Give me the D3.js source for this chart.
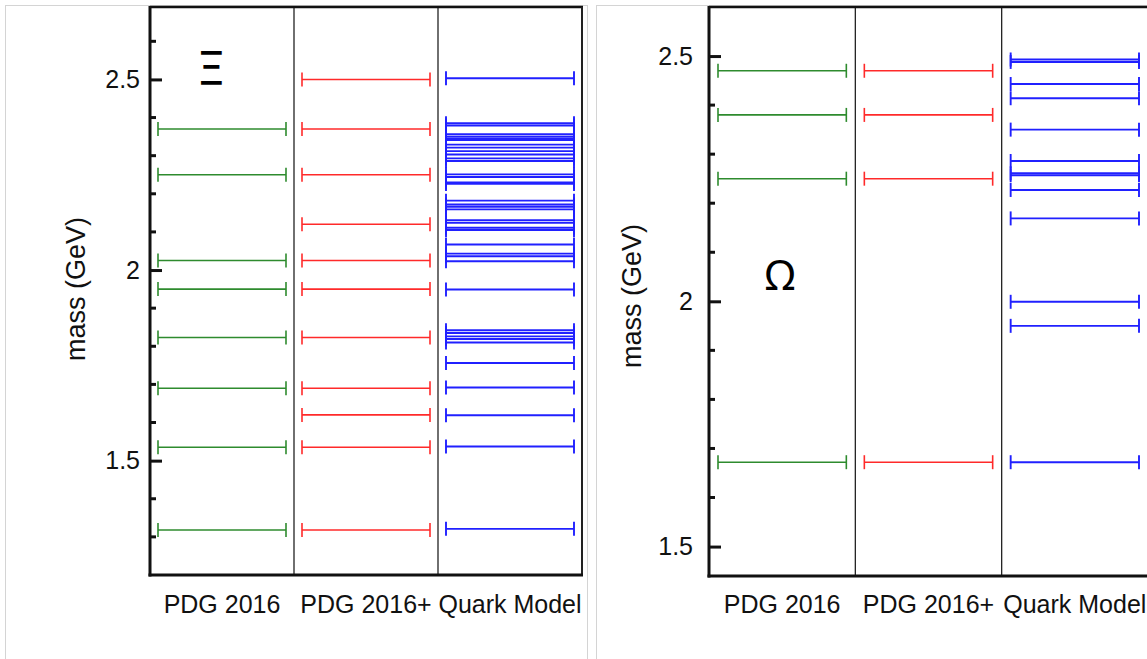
<!DOCTYPE html>
<html>
<head>
<meta charset="utf-8">
<script src="https://cdn.jsdelivr.net/npm/d3@7"></script>
<style>
  body { margin: 0; background: #fff; }
  svg text { font-family: "Liberation Sans", Arial, sans-serif; fill: #111; }
</style>
</head>
<body>
<div id="chart"></div>
<script>
var width = 1147,
    height = 659;

var colors = { pdg: "#2e8b2e", plus: "#ff2a2a", quark: "#2020ff" };

var categories = ["PDG 2016", "PDG 2016+", "Quark Model"];

// Xi levels (GeV)
var xiPdg = [1.318, 1.535, 1.690, 1.823, 1.950, 2.025, 2.250, 2.370];
var xiPdgPlus = [1.318, 1.535, 1.620, 1.690, 1.823, 1.950, 2.025, 2.120, 2.250, 2.370, 2.500];
var xiQuark = [1.321, 1.537, 1.619, 1.692, 1.756, 1.810, 1.819, 1.826, 1.835, 1.842, 1.949,
  2.023, 2.036, 2.043, 2.067, 2.105, 2.111, 2.124, 2.131, 2.159, 2.166, 2.172, 2.182,
  2.226, 2.230, 2.244, 2.251, 2.286, 2.293, 2.303, 2.312, 2.321, 2.329, 2.341, 2.345,
  2.350, 2.356, 2.379, 2.385, 2.503];

// Omega levels (GeV)
var omegaPdg = [1.672, 2.250, 2.380, 2.470];
var omegaPdgPlus = [1.672, 2.250, 2.380, 2.470];
var omegaQuark = [1.672, 1.950, 1.999, 2.169, 2.227, 2.257, 2.261, 2.286, 2.350, 2.414,
  2.443, 2.488, 2.493];

var majorTicks = [1.5, 2, 2.5];
var majorLabels = ["1.5", "2", "2.5"];
var xiMinor = [1.3, 1.4, 1.6, 1.7, 1.8, 1.9, 2.1, 2.2, 2.3, 2.4, 2.6];
var omegaMinor = [1.6, 1.7, 1.8, 1.9, 2.1, 2.2, 2.3, 2.4];

var svg = d3.select("#chart").append("svg")
    .attr("width", width)
    .attr("height", height);

svg.append("rect")
    .attr("width", width)
    .attr("height", height)
    .attr("fill", "#fff");

// screenshot borders
svg.append("rect")
    .attr("x", 5.5).attr("y", 5.5)
    .attr("width", 582).attr("height", 700)
    .attr("fill", "none")
    .attr("stroke", "#d4d4d4");
svg.append("rect")
    .attr("x", 596.5).attr("y", 5.5)
    .attr("width", 700).attr("height", 700)
    .attr("fill", "none")
    .attr("stroke", "#d4d4d4");

drawPanel({
  x0: 150, x1: 582, top: 7, bottom: 575,
  domain: [1.2, 2.69], inset: 8,
  series: [xiPdg, xiPdgPlus, xiQuark],
  minor: xiMinor, labelGap: 10,
  titleX: 75, titleY: 289,
  symbol: "\u039E", symX: 211, symY: 85, symSize: 46, symFont: "DejaVu Sans"
});

drawPanel({
  x0: 709, x1: 1148, top: 7, bottom: 576,
  domain: [1.44, 2.6], inset: 9,
  series: [omegaPdg, omegaPdgPlus, omegaQuark],
  minor: omegaMinor, labelGap: 16,
  titleX: 631, titleY: 296,
  symbol: "\u03A9", symX: 780, symY: 290, symSize: 42, symFont: "Noto Sans"
});

function drawPanel(p) {
  var x = d3.scaleBand()
      .domain(categories)
      .range([p.x0, p.x1]);

  var y = d3.scaleLinear()
      .domain(p.domain)
      .range([p.bottom, p.top]);

  var g = svg.append("g");
  var seriesColors = [colors.pdg, colors.plus, colors.quark],
      seriesWidths = [1.6, 1.6, 1.9];

  p.series.forEach(function(values, i) {
    var cat = categories[i],
        xa = x(cat) + p.inset,
        xb = x(cat) + x.bandwidth() - p.inset;
    var s = g.append("g")
        .attr("stroke", seriesColors[i])
        .attr("stroke-width", seriesWidths[i])
        .attr("fill", "none");
    var lvl = s.selectAll("g").data(values).enter().append("g");
    lvl.append("line")
        .attr("x1", xa).attr("x2", xb)
        .attr("y1", function(d) { return y(d); })
        .attr("y2", function(d) { return y(d); });
    lvl.append("line")
        .attr("x1", xa).attr("x2", xa)
        .attr("y1", function(d) { return y(d) - 7; })
        .attr("y2", function(d) { return y(d) + 7; });
    lvl.append("line")
        .attr("x1", xb).attr("x2", xb)
        .attr("y1", function(d) { return y(d) - 7; })
        .attr("y2", function(d) { return y(d) + 7; });
  });

  // column dividers
  g.selectAll(".divider")
      .data(categories.slice(1))
      .enter().append("line")
      .attr("x1", function(d) { return x(d); })
      .attr("x2", function(d) { return x(d); })
      .attr("y1", p.top)
      .attr("y2", p.bottom)
      .attr("stroke", "#222")
      .attr("stroke-width", 1.3);

  // frame
  g.append("line")
      .attr("x1", p.x0).attr("x2", p.x1 + 1)
      .attr("y1", p.top).attr("y2", p.top)
      .attr("stroke", "#111").attr("stroke-width", 2.5);
  g.append("line")
      .attr("x1", p.x1).attr("x2", p.x1)
      .attr("y1", p.top).attr("y2", p.bottom)
      .attr("stroke", "#222").attr("stroke-width", 2);

  var axis = d3.axisLeft(y)
      .tickValues(majorTicks)
      .tickFormat(function(d, i) { return majorLabels[i]; })
      .tickSize(-12)
      .tickPadding(p.labelGap);

  var ax = svg.append("g")
      .attr("transform", "translate(" + p.x0 + ",0)")
      .call(axis);
  ax.select(".domain").remove();
  ax.selectAll(".tick line")
      .attr("stroke", "#111")
      .attr("stroke-width", 3);
  ax.selectAll(".tick text")
      .attr("x", -p.labelGap)
      .attr("font-size", 25)
      .attr("font-family", "Liberation Sans, Arial, sans-serif")
      .attr("fill", "#111");

  g.selectAll(".minor")
      .data(p.minor)
      .enter().append("line")
      .attr("x1", p.x0).attr("x2", p.x0 + 6)
      .attr("y1", function(d) { return y(d); })
      .attr("y2", function(d) { return y(d); })
      .attr("stroke", "#111")
      .attr("stroke-width", 3);

  g.append("line")
      .attr("x1", p.x0).attr("x2", p.x0)
      .attr("y1", p.top - 1).attr("y2", p.bottom + 1.5)
      .attr("stroke", "#111").attr("stroke-width", 3);
  g.append("line")
      .attr("x1", p.x0 - 1.5).attr("x2", p.x1 + 1)
      .attr("y1", p.bottom).attr("y2", p.bottom)
      .attr("stroke", "#111").attr("stroke-width", 3);

  // category labels
  g.selectAll(".cat")
      .data(categories)
      .enter().append("text")
      .attr("x", function(d) { return x(d) + x.bandwidth() / 2; })
      .attr("y", 613)
      .attr("text-anchor", "middle")
      .attr("font-size", 25)
      .text(function(d) { return d; });

  g.append("text")
      .attr("transform", "translate(" + (p.titleX + 10) + "," + p.titleY + ") rotate(-90)")
      .attr("text-anchor", "middle")
      .attr("font-size", 27)
      .text("mass (GeV)");

  g.append("text")
      .attr("x", p.symX)
      .attr("y", p.symY)
      .attr("text-anchor", "middle")
      .attr("font-size", p.symSize)
      .style("font-family", p.symFont)
      .style("fill", "#000")
      .text(p.symbol);
}
</script>
</body>
</html>
